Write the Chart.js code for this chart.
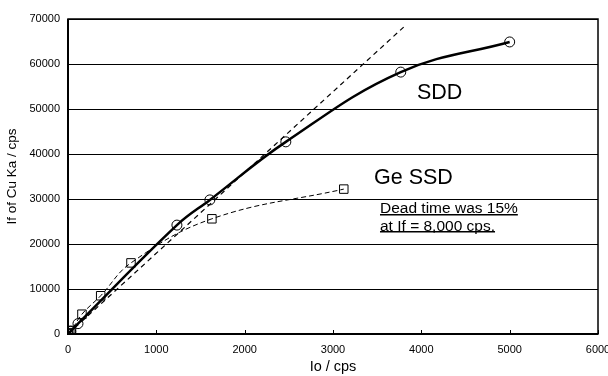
<!DOCTYPE html>
<html>
<head>
<meta charset="utf-8">
<script src="https://cdn.jsdelivr.net/npm/chart.js@4"></script>
<style>
  html, body { margin: 0; padding: 0; background: #fff; }
  #wrap { width: 608px; height: 376px; }
</style>
</head>
<body>
<div id="wrap"><canvas id="ioChart" width="608" height="376"></canvas></div>
<script>
// SDD (circles)
const sddIo = [0, 30, 113, 1233, 1606, 2466, 3767, 5000];
const sddIf = [0, 600, 2300, 24200, 29800, 42700, 58200, 64900];
// Ge SSD (squares)
const geIo = [0, 20, 40, 158, 370, 713, 1629, 3122];
const geIf = [0, 300, 800, 4400, 8500, 15800, 25600, 32200];
// ideal linear response
const lineIo = [0, 3800];
const lineIf = [0, 68200];

const xTicks = [0, 1000, 2000, 3000, 4000, 5000, 6000];
const yTicks = [0, 10000, 20000, 30000, 40000, 50000, 60000, 70000];

const pts = (xs, ys) => xs.map((x, i) => ({ x: x, y: ys[i] }));
const font = 'Liberation Sans, Arial, sans-serif';

// frame, inside tick marks and the text labels
const decor = {
    id: 'decor',
    afterDraw(chart) {
        const c = chart.ctx, a = chart.chartArea;
        const xs = chart.scales.x, ys = chart.scales.y;
        c.save();
        c.strokeStyle = '#000';
        c.lineWidth = 1.5;
        c.strokeRect(a.left, a.top, a.right - a.left, a.bottom - a.top);
        c.lineWidth = 2;
        c.beginPath();
        c.moveTo(a.left, a.top); c.lineTo(a.left, a.bottom); c.lineTo(a.right, a.bottom);
        c.stroke();
        c.lineWidth = 1;
        xTicks.forEach(v => {
            const px = Math.round(xs.getPixelForValue(v)) + 0.5;
            c.beginPath(); c.moveTo(px, a.bottom); c.lineTo(px, a.bottom - 4); c.stroke();
        });

        c.fillStyle = '#000';
        c.textBaseline = 'middle';
        c.font = '21.5px ' + font;
        c.fillText('SDD', xs.getPixelForValue(3950), ys.getPixelForValue(53600));
        c.fillText('Ge SSD', xs.getPixelForValue(3464), ys.getPixelForValue(34700));

        c.font = '15.5px ' + font;
        const notes = [['Dead time was 15%', 27750], ['at If = 8,000 cps.', 23950]];
        notes.forEach(n => {
            const tx = xs.getPixelForValue(3532), ty = ys.getPixelForValue(n[1]);
            c.fillText(n[0], tx, ty);
            const w = c.measureText(n[0]).width;
            c.fillRect(tx, Math.round(ty + 5), w, 1.5);
        });
        c.restore();
    }
};

new Chart(document.getElementById('ioChart'), {
    type: 'scatter',
    data: {
        datasets: [{
            label: 'linear',
            data: pts(lineIo, lineIf),
            showLine: true,
            borderColor: '#000',
            borderWidth: 1.2,
            borderDash: [5, 4],
            pointRadius: 0
        }, {
            label: 'Ge SSD',
            data: pts(geIo, geIf),
            showLine: true,
            tension: 0.4,
            borderColor: '#000',
            borderWidth: 1,
            borderDash: [5, 3],
            pointStyle: 'rect',
            pointRadius: 6,
            pointBorderWidth: 1,
            pointBackgroundColor: 'rgba(255,255,255,0)',
            pointBorderColor: '#000'
        }, {
            label: 'SDD',
            data: pts(sddIo, sddIf),
            showLine: true,
            tension: 0.4,
            borderColor: '#000',
            borderWidth: 2.5,
            pointStyle: 'circle',
            pointRadius: 5,
            pointBorderWidth: 1,
            pointBackgroundColor: 'rgba(255,255,255,0)',
            pointBorderColor: '#000'
        }]
    },
    options: {
        responsive: false,
        animation: false,
        layout: { padding: { top: 19, right: 10, left: 0, bottom: 0 } },
        plugins: { legend: { display: false }, tooltip: { enabled: false } },
        scales: {
            x: {
                type: 'linear',
                min: 0, max: 6000,
                afterFit: s => { s.height = 42; s.paddingLeft = 0; s.paddingRight = 0; },
                afterBuildTicks: s => { s.ticks = xTicks.map(v => ({ value: v })); },
                grid: { display: false },
                border: { display: false },
                ticks: { color: '#000', font: { family: font, size: 11 }, padding: 1, maxRotation: 0, callback: v => String(v) },
                title: { display: true, text: 'Io / cps', color: '#000', font: { family: font, size: 14.5 }, padding: { top: 1, bottom: 0 } }
            },
            y: {
                type: 'linear',
                min: 0, max: 70000,
                afterFit: s => { s.width = 68; s.paddingTop = 0; s.paddingBottom = 0; },
                afterBuildTicks: s => { s.ticks = yTicks.map(v => ({ value: v })); },
                grid: { color: '#000', lineWidth: 1, drawTicks: false },
                border: { display: false },
                ticks: { color: '#000', font: { family: font, size: 11 }, padding: 8, callback: v => String(v) },
                title: { display: true, text: 'If of Cu Ka / cps', color: '#000', font: { family: font, size: 13.5 }, padding: { bottom: 2 } }
            }
        }
    },
    plugins: [decor]
});
</script>
</body>
</html>
